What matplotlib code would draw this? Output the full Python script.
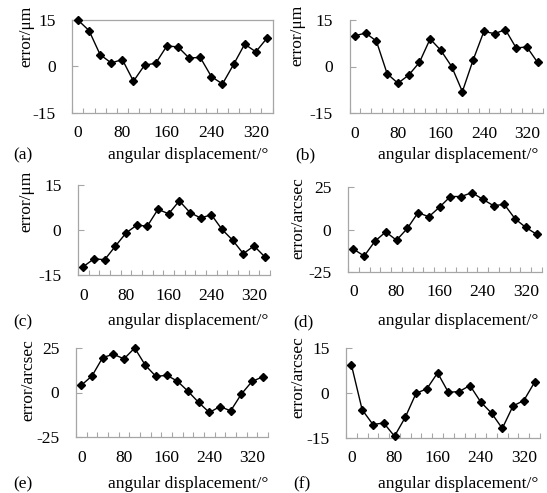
import matplotlib
matplotlib.use("Agg")
import matplotlib.pyplot as plt
import numpy as np

plt.rcParams['font.family'] = ['Liberation Serif', 'DejaVu Serif']

angles = list(range(0, 360, 20))
err_a = [15.0, 11.6, 3.8, 1.1, 2.2, -4.8, 0.4, 1.0, 6.6, 6.3, 2.7, 2.9, -3.3, -5.7, 0.6, 7.2, 4.7, 9.1]
err_b = [9.9, 10.8, 8.2, -2.3, -5.4, -2.8, 1.3, 8.9, 5.2, 0.0, -8.1, 2.1, 11.3, 10.6, 11.9, 6.0, 6.3, 1.3]
err_c = [-12.2, -9.6, -9.9, -5.4, -1.0, 1.6, 1.3, 6.9, 5.4, 9.7, 5.8, 4.0, 5.1, 0.2, -3.4, -7.9, -5.3, -8.9]
err_d = [-11.5, -15.6, -6.9, -1.4, -6.3, 0.6, 9.9, 7.5, 13.2, 19.4, 19.4, 21.7, 17.8, 14.0, 14.8, 6.3, 1.2, -2.8]
err_e = [4.1, 9.3, 19.6, 21.5, 18.9, 25.0, 15.3, 9.0, 9.7, 6.4, 0.7, -5.6, -11.2, -7.9, -10.3, -0.9, 6.2, 8.8]
err_f = [9.4, -5.6, -10.5, -10.0, -14.4, -8.1, -0.1, 1.4, 6.7, 0.2, 0.5, 2.5, -3.0, -6.7, -11.8, -4.3, -2.5, 3.6]

xtick_labels = [0, 80, 160, 240, 320]
panel_letters = ['(a)', '(b)', '(c)', '(d)', '(e)', '(f)']
ylabels = ['error/μm', 'error/μm', 'error/μm', 'error/arcsec', 'error/arcsec', 'error/arcsec']
ylims = [15, 15, 15, 25, 25, 15]
xlabel = 'angular displacement/°'

W, H = 547, 493
fig = plt.figure(figsize=(W / 100, H / 100), dpi=100)
FS = 12.5

# axes boxes in pixels: left, top, right, bottom
boxes = [
    (72.3, 20, 272.5, 112.7),
    (349.5, 20, 543, 113),
    (78, 185, 270, 275),
    (348, 187, 542, 272),
    (76, 348, 268, 437),
    (346, 348, 540, 438),
]
# label positions (pixels)
ylabel_pos = [(26, 36), (297, 35), (26, 201), (298, 218), (28, 380), (298, 377)]
letter_pos = [(13, 155), (295, 155), (13, 322), (293, 322), (13, 484), (293, 484)]
xlabel_right = [268, 538, 268, 538, 268, 538]
xlabel_y = [155, 155, 321, 321, 484, 484]

series = [err_a, err_b, err_c, err_d, err_e, err_f]
gray = '#a6a6a6'

for i, (vals, box) in enumerate(zip(series, boxes)):
    l, t, r, b = box
    ax = fig.add_axes([l / W, 1 - b / H, (r - l) / W, (b - t) / H])
    ax.plot(angles, vals, color='black', lw=1.0, marker='D', ms=4.2,
            mfc='black', mec='black', clip_on=False, zorder=3)
    lim = ylims[i]
    ax.set_ylim(-lim, lim)
    ax.set_xlim(-10, 350)
    ax.set_yticks([-lim, 0, lim])
    ax.set_yticklabels([f'-{lim}', '0', f'{lim}'])
    ax.set_xticks(xtick_labels)
    ax.set_xticklabels([str(v) for v in xtick_labels])
    ax.set_xticks(np.arange(-10, 351, 20), minor=True)
    ax.tick_params(axis='x', which='major', length=0, pad=9, labelsize=FS)
    ax.tick_params(axis='x', which='minor', direction='in', length=3.5,
                   width=0.8, color=gray)
    ax.tick_params(axis='y', which='major', direction='in', length=4,
                   width=0.8, color=gray, pad=12, labelsize=FS)
    for side in ['left', 'bottom']:
        ax.spines[side].set_color(gray)
        ax.spines[side].set_linewidth(0.9)
    if i == 0:
        for side in ['top', 'right']:
            ax.spines[side].set_color(gray)
            ax.spines[side].set_linewidth(0.9)
    else:
        ax.spines['top'].set_visible(False)
        ax.spines['right'].set_visible(False)
    ax.patch.set_alpha(0)

    fig.text(ylabel_pos[i][0] / W, 1 - ylabel_pos[i][1] / H, ylabels[i],
             rotation=90, ha='center', va='center', fontsize=FS)
    fig.text(letter_pos[i][0] / W, 1 - letter_pos[i][1] / H, panel_letters[i],
             ha='left', va='center', fontsize=FS)
    fig.text(xlabel_right[i] / W, 1 - xlabel_y[i] / H, xlabel,
             ha='right', va='center', fontsize=FS)

fig.savefig('out.png', dpi=100)
